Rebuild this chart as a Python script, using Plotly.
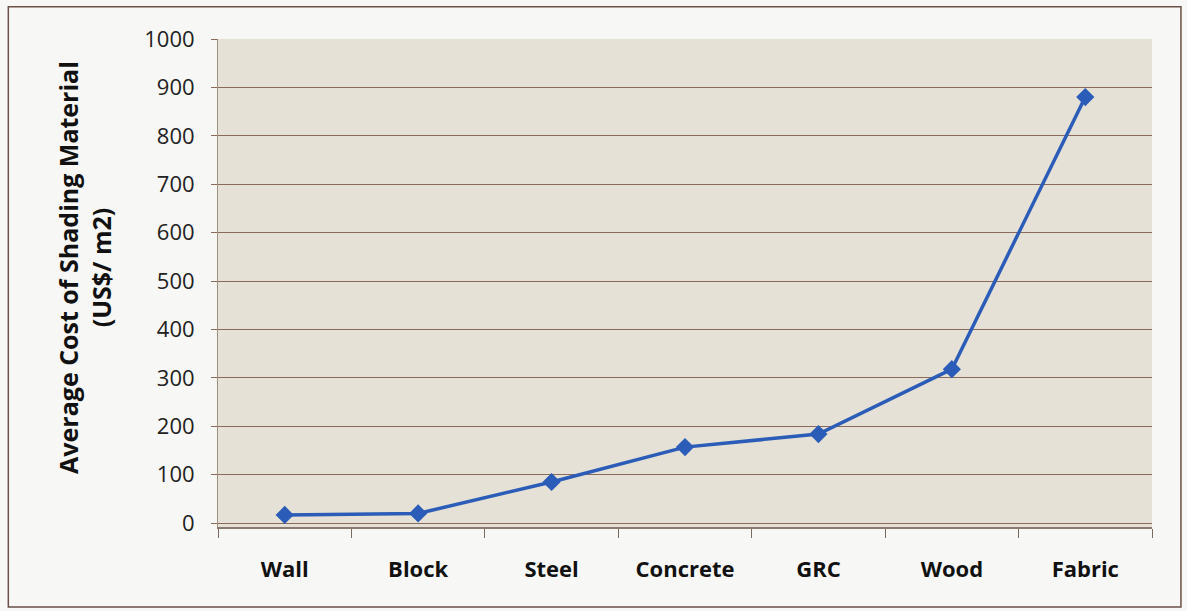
import plotly.graph_objects as go

categories = ["Wall", "Block", "Steel", "Concrete", "GRC", "Wood", "Fabric"]
costs = [17, 20, 85, 157, 184, 318, 880]
y_ticks = [0, 100, 200, 300, 400, 500, 600, 700, 800, 900, 1000]

fig = go.Figure()
fig.add_trace(go.Scatter(
    x=categories, y=costs, mode="lines+markers",
    line=dict(color="#2a5cb8", width=3.5),
    marker=dict(symbol="diamond", size=14, color="#2a5cb8"),
    showlegend=False,
))

fig.update_layout(
    width=1187, height=611,
    margin=dict(l=218, r=35, t=39, b=84),
    paper_bgcolor="#f7f7f5",
    plot_bgcolor="#e5e1d6",
    font=dict(family="Open Sans", color="#1a1a1a"),
    shapes=[dict(type="rect", xref="paper", yref="paper",
                 x0=-0.2245, x1=1.0310, y0=-0.164, y1=1.066,
                 line=dict(color="#6b5048", width=1.5), layer="below")],
    annotations=[dict(text="Average Cost of Shading Material<br>(US$/ m2)",
                      xref="paper", yref="paper", x=-0.1424, y=0.533,
                      xanchor="center", yanchor="middle", textangle=-90,
                      showarrow=False, align="center",
                      font=dict(size=25, family="Open Sans", weight="bold", color="#111"))],
)
fig.update_xaxes(
    type="category", range=[-0.5, 6.5], tickson="boundaries", ticks="outside", ticklen=9,
    tickcolor="#7a6a60", showline=True, linecolor="#8a7a70", linewidth=1.5,
    tickfont=dict(size=22, family="Open Sans", weight="bold", color="#111"),
    showgrid=False, ticklabelstandoff=22,
)
fig.update_yaxes(
    range=[-8, 1000], tickvals=y_ticks, ticks="outside", ticklen=6,
    tickcolor="#8a6a5a", showgrid=True, gridcolor="#8a6a5a", gridwidth=1.2,
    showline=True, linecolor="#a09080", linewidth=1,
    tickfont=dict(size=22, family="Open Sans", color="#222"),
    ticklabelstandoff=12,
    zeroline=False,
)

fig.write_html("out.html", config={"displayModeBar": False},
               post_script="document.body.style.margin='0';document.body.style.overflow='hidden';")
